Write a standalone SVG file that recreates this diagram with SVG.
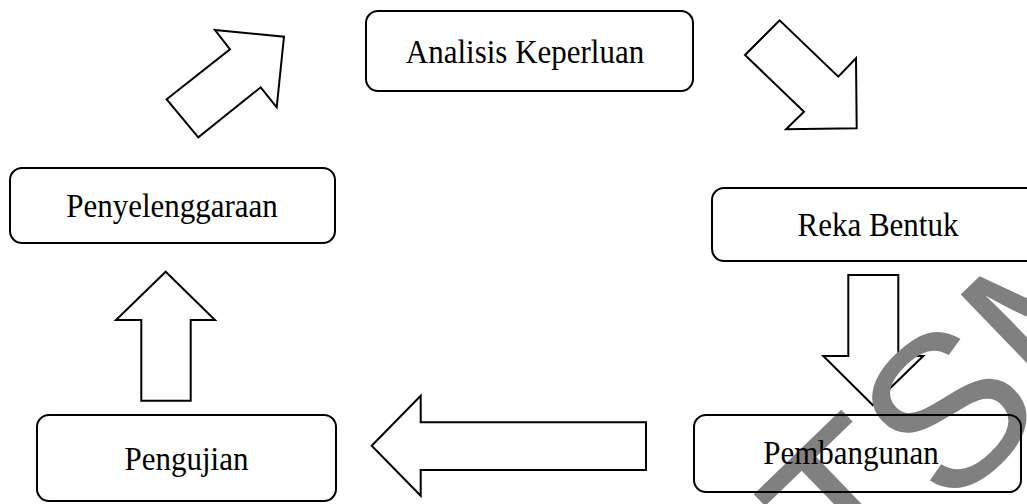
<svg xmlns="http://www.w3.org/2000/svg" width="1027" height="504" viewBox="0 0 1027 504">
  <style>
    .box { fill: none; stroke: #000; stroke-width: 2; }
    .arrow { fill: #fff; stroke: #000; stroke-width: 2; stroke-linejoin: miter; }
    .label { font-family: "Liberation Serif", "Times New Roman", serif; font-size: 31px; fill: #000; text-anchor: middle; }
    .wm { font-family: "Liberation Sans", Arial, sans-serif; font-size: 215px; fill: #808080; }
  </style>
  <rect x="0" y="0" width="1027" height="504" fill="#fff"/>
  <g id="connectors">
    <polygon class="arrow" points="166.7,99.3 230,49.3 215,30 284,36.7 276.7,107.3 260.7,87.3 198.3,137.3"/>
    <polygon class="arrow" points="745,55 779.6,20.4 838.3,76.7 856,58.3 856.7,128.3 786,129.3 804,111.7"/>
    <polygon class="arrow" points="848.3,275 898.3,275 898.3,356 923.3,356 872.7,405 823.3,356 848.3,356"/>
    <polygon class="arrow" points="371.7,445.7 420.7,395.7 420.7,422.3 646,422.3 646,470 420.7,470 420.7,495.7"/>
    <polygon class="arrow" points="165.7,271.7 215,320 190.7,320 190.7,400.7 141.3,400.7 141.3,320 116,320"/>
  </g>
  <g id="watermark">
    <text class="wm" transform="translate(853,604) rotate(-44)">TSM</text>
  </g>
  <g id="node-analisis">
    <rect class="box" x="366" y="11" width="327" height="80" rx="12"/>
    <text class="label" transform="translate(525,63) scale(1,1.12)">Analisis Keperluan</text>
  </g>
  <g id="node-penyelenggaraan">
    <rect class="box" x="10" y="168" width="325" height="75" rx="12"/>
    <text class="label" transform="translate(172,217) scale(1,1.12)">Penyelenggaraan</text>
  </g>
  <g id="node-reka-bentuk">
    <rect class="box" x="712" y="188" width="332" height="73" rx="12"/>
    <text class="label" transform="translate(878,236) scale(1,1.12)">Reka Bentuk</text>
  </g>
  <g id="node-pembangunan">
    <rect class="box" x="694" y="415" width="327" height="77" rx="12"/>
    <text class="label" transform="translate(851,464) scale(1,1.12)">Pembangunan</text>
  </g>
  <g id="node-pengujian">
    <rect class="box" x="37" y="415" width="299" height="86" rx="12"/>
    <text class="label" transform="translate(186.5,470) scale(1,1.12)">Pengujian</text>
  </g>
</svg>
